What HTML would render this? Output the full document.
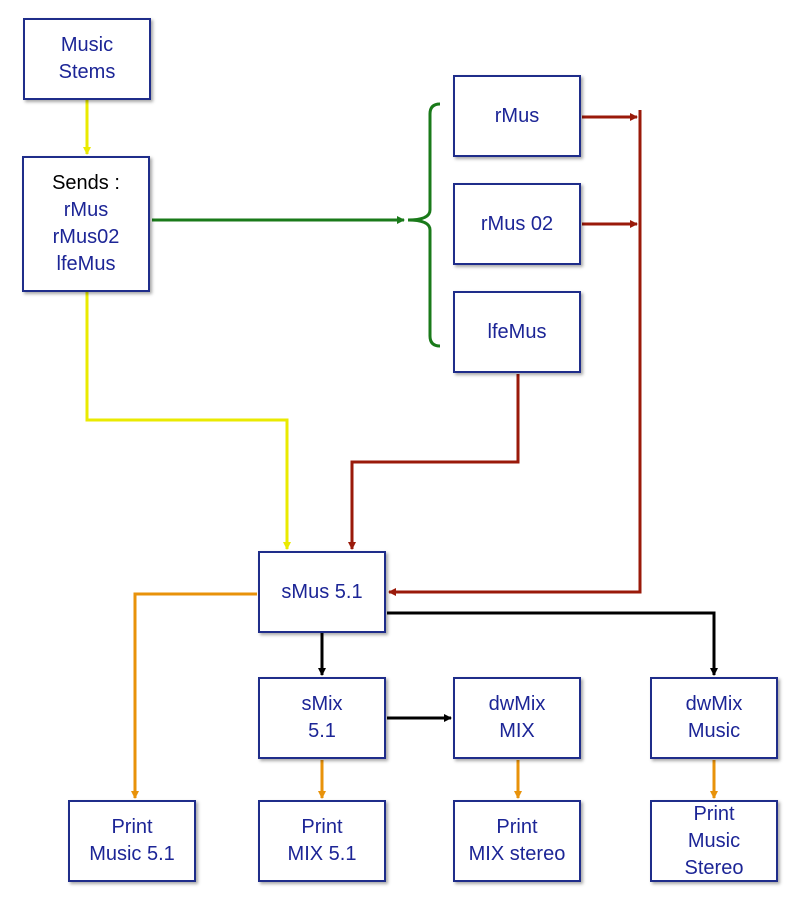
<!DOCTYPE html>
<html><head><style>
body{margin:0;background:#fff;width:800px;height:904px;position:relative;overflow:hidden;font-family:"Liberation Sans",sans-serif}
.b{position:absolute;width:124px;height:78px;border:2px solid #1f2d8a;box-shadow:2px 2px 3px rgba(0,0,0,.35);background:#fff;display:flex;align-items:center;justify-content:center;text-align:center;color:#1c2596;font-size:20px;line-height:27px}
</style></head><body>
<svg width="800" height="904" style="position:absolute;left:0;top:0">
<defs>
<marker id="y" markerWidth="8" markerHeight="8" refX="7" refY="4" orient="auto" markerUnits="userSpaceOnUse"><path d="M0,0L8,4L0,8z" fill="#eaea00"/></marker>
<marker id="g" markerWidth="8" markerHeight="8" refX="7" refY="4" orient="auto" markerUnits="userSpaceOnUse"><path d="M0,0L8,4L0,8z" fill="#1a7a1a"/></marker>
<marker id="r" markerWidth="8" markerHeight="8" refX="7" refY="4" orient="auto" markerUnits="userSpaceOnUse"><path d="M0,0L8,4L0,8z" fill="#9a1a0a"/></marker>
<marker id="o" markerWidth="8" markerHeight="8" refX="7" refY="4" orient="auto" markerUnits="userSpaceOnUse"><path d="M0,0L8,4L0,8z" fill="#e8920a"/></marker>
<marker id="k" markerWidth="8" markerHeight="8" refX="7" refY="4" orient="auto" markerUnits="userSpaceOnUse"><path d="M0,0L8,4L0,8z" fill="#000"/></marker>
</defs>
<g fill="none" stroke-width="3">
<path d="M87,100V154" stroke="#eaea00" marker-end="url(#y)"/>
<path d="M87,291V420H287V549" stroke="#eaea00" marker-end="url(#y)"/>
<path d="M152,220H404" stroke="#1a7a1a" marker-end="url(#g)"/>
<path d="M440,104Q430,104 430,114V210Q430,220 408,220Q430,220 430,230V336Q430,346 440,346" stroke="#1a7a1a"/>
<path d="M582,117H637" stroke="#9a1a0a" marker-end="url(#r)"/>
<path d="M582,224H637" stroke="#9a1a0a" marker-end="url(#r)"/>
<path d="M640,110V592H389" stroke="#9a1a0a" marker-end="url(#r)"/>
<path d="M518,374V462H352V549" stroke="#9a1a0a" marker-end="url(#r)"/>
<path d="M257,594H135V798" stroke="#e8920a" marker-end="url(#o)"/>
<path d="M322,760V798" stroke="#e8920a" marker-end="url(#o)"/>
<path d="M518,760V798" stroke="#e8920a" marker-end="url(#o)"/>
<path d="M714,760V798" stroke="#e8920a" marker-end="url(#o)"/>
<path d="M322,633V675" stroke="#000" marker-end="url(#k)"/>
<path d="M387,718H451" stroke="#000" marker-end="url(#k)"/>
<path d="M387,613H714V675" stroke="#000" marker-end="url(#k)"/>
</g>
</svg>
<div class="b" style="left:23px;top:18px">Music<br>Stems</div>
<div class="b" style="left:22px;top:156px;height:132px"><div><span style="color:#000">Sends :</span><br>rMus<br>rMus02<br>lfeMus</div></div>
<div class="b" style="left:453px;top:75px">rMus</div>
<div class="b" style="left:453px;top:183px">rMus 02</div>
<div class="b" style="left:453px;top:291px">lfeMus</div>
<div class="b" style="left:258px;top:551px">sMus 5.1</div>
<div class="b" style="left:258px;top:677px">sMix<br>5.1</div>
<div class="b" style="left:453px;top:677px">dwMix<br>MIX</div>
<div class="b" style="left:650px;top:677px">dwMix<br>Music</div>
<div class="b" style="left:68px;top:800px">Print<br>Music 5.1</div>
<div class="b" style="left:258px;top:800px">Print<br>MIX 5.1</div>
<div class="b" style="left:453px;top:800px">Print<br>MIX stereo</div>
<div class="b" style="left:650px;top:800px">Print<br>Music<br>Stereo</div>
</body></html>
